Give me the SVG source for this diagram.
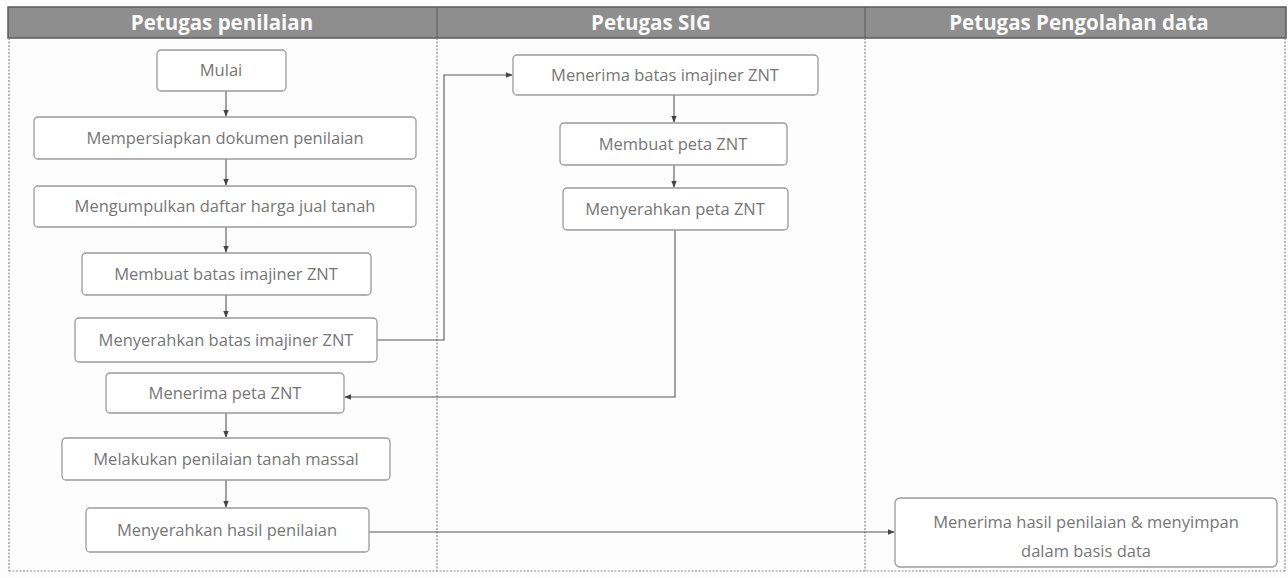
<svg xmlns="http://www.w3.org/2000/svg" width="1288" height="578" viewBox="0 0 1288 578">
<style>
.hdr{fill:#8e8e8e;stroke:#5a5a5a;stroke-width:1.5}
.ht{font-family:"Open Sans","Liberation Sans",sans-serif;font-weight:bold;font-size:20.5px;fill:#fafafa;text-anchor:middle}
.lane{fill:none;stroke:#8a8a8a;stroke-width:1.2;stroke-dasharray:2 1.5}
.box{fill:#ffffff;stroke:#9a9a9a;stroke-width:1.3}
.t{font-family:"Open Sans","Liberation Sans",sans-serif;font-size:16.5px;fill:#767676;text-anchor:middle}
.c{fill:none;stroke:#555;stroke-width:1.1}
</style>
<defs>
<marker id="ah" viewBox="0 0 10 10" refX="9" refY="5" markerWidth="7" markerHeight="7" orient="auto" markerUnits="userSpaceOnUse">
<path d="M0,1 L10,5 L0,9 Z" fill="#444"/>
</marker>
</defs>
<rect width="1288" height="578" fill="#fdfdfd"/>
<g id="lanes">
<rect class="hdr" x="8" y="7" width="1278" height="31"/>
<line class="lane" x1="9" y1="38" x2="9" y2="571"/>
<line class="lane" x1="437" y1="38" x2="437" y2="571"/>
<line class="lane" x1="865" y1="38" x2="865" y2="571"/>
<line class="lane" x1="1285" y1="38" x2="1285" y2="571"/>
<line class="lane" x1="9" y1="571" x2="1285" y2="571"/>
<line x1="437" y1="7" x2="437" y2="38" stroke="#5a5a5a" stroke-width="1"/>
<line x1="865" y1="7" x2="865" y2="38" stroke="#5a5a5a" stroke-width="1"/>
<text class="ht" x="222" y="30">Petugas penilaian</text>
<text class="ht" x="651" y="30">Petugas SIG</text>
<text class="ht" x="1079" y="30">Petugas Pengolahan data</text>
</g>
<g id="connectors">
<line class="c" x1="226" y1="91" x2="226" y2="116" marker-end="url(#ah)"/>
<line class="c" x1="226" y1="159" x2="226" y2="185" marker-end="url(#ah)"/>
<line class="c" x1="226" y1="227" x2="226" y2="252" marker-end="url(#ah)"/>
<line class="c" x1="226" y1="295" x2="226" y2="317" marker-end="url(#ah)"/>
<line class="c" x1="226" y1="413" x2="226" y2="437" marker-end="url(#ah)"/>
<line class="c" x1="226" y1="480" x2="226" y2="507" marker-end="url(#ah)"/>
<polyline class="c" points="377,340 444,340 444,75 512,75" marker-end="url(#ah)"/>
<line class="c" x1="674" y1="95" x2="674" y2="122" marker-end="url(#ah)"/>
<line class="c" x1="674" y1="165" x2="674" y2="187" marker-end="url(#ah)"/>
<polyline class="c" points="675,230 675,397 345,397" marker-end="url(#ah)"/>
<line class="c" x1="369" y1="532" x2="894" y2="532" marker-end="url(#ah)"/>
</g>
<g id="n-mulai"><rect class="box" x="157" y="50" width="129" height="41" rx="4"/><text class="t" x="221" y="76">Mulai</text></g>
<g id="n-mempersiapkan"><rect class="box" x="34" y="117" width="382" height="42" rx="4"/><text class="t" x="225" y="144">Mempersiapkan dokumen penilaian</text></g>
<g id="n-mengumpulkan"><rect class="box" x="34" y="186" width="382" height="41" rx="4"/><text class="t" x="225" y="212">Mengumpulkan daftar harga jual tanah</text></g>
<g id="n-membuat-batas"><rect class="box" x="82" y="253" width="289" height="42" rx="4"/><text class="t" x="226" y="280">Membuat batas imajiner ZNT</text></g>
<g id="n-menyerahkan-batas"><rect class="box" x="75" y="318" width="302" height="44" rx="4"/><text class="t" x="226" y="346">Menyerahkan batas imajiner ZNT</text></g>
<g id="n-menerima-peta"><rect class="box" x="106" y="373" width="238" height="40" rx="4"/><text class="t" x="225" y="399">Menerima peta ZNT</text></g>
<g id="n-melakukan"><rect class="box" x="62" y="438" width="328" height="42" rx="4"/><text class="t" x="226" y="465">Melakukan penilaian tanah massal</text></g>
<g id="n-menyerahkan-hasil"><rect class="box" x="86" y="508" width="283" height="44" rx="4"/><text class="t" x="227" y="536">Menyerahkan hasil penilaian</text></g>
<g id="n-menerima-batas"><rect class="box" x="513" y="55" width="305" height="40" rx="4"/><text class="t" x="665" y="81">Menerima batas imajiner ZNT</text></g>
<g id="n-membuat-peta"><rect class="box" x="560" y="123" width="227" height="42" rx="4"/><text class="t" x="673" y="150">Membuat peta ZNT</text></g>
<g id="n-menyerahkan-peta"><rect class="box" x="563" y="188" width="225" height="42" rx="4"/><text class="t" x="675" y="215">Menyerahkan peta ZNT</text></g>
<g id="n-menerima-hasil"><rect class="box" x="895" y="498" width="382" height="69" rx="5"/><text class="t" x="1086" y="528">Menerima hasil penilaian &amp; menyimpan</text><text class="t" x="1086" y="557">dalam basis data</text></g>
</svg>
